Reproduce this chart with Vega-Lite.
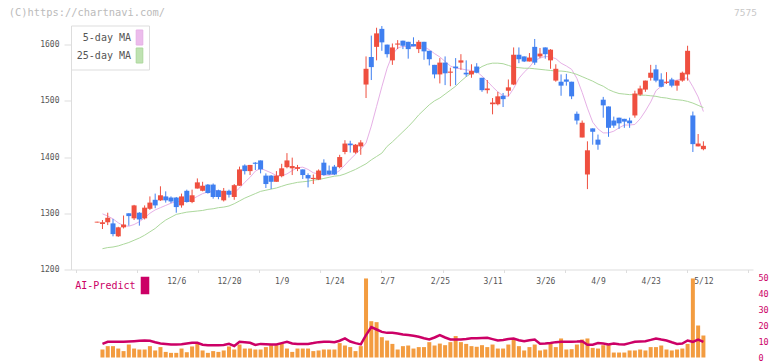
{
  "$schema": "https://vega.github.io/schema/vega-lite/v6.json",
  "background": "white",
  "padding": {"left": 8, "top": 7.5, "right": 2, "bottom": 0},
  "config": {"view": {"stroke": null}, "font": "DejaVu Sans Mono"},
  "title": {"text": "(C)https://chartnavi.com/", "anchor": "start", "frame": "bounds", "dx": -31, "fontSize": 10.4, "font": "DejaVu Sans Mono", "fontWeight": "normal", "color": "#bbbbbb", "offset": -10},
  "spacing": 0,
  "resolve": {"scale": {"x": "independent", "color": "independent"}, "legend": {"color": "independent"}},
  "datasets": {
    "d": [
      {"i":0,"o":1283.5,"h":1285,"l":1283.5,"c":1285},
      {"i":1,"o":1281,"h":1288,"l":1272,"c":1284,"v":5.0,"m5":1299,"m25":1237,"ai":8.5},
      {"i":2,"o":1284,"h":1301,"l":1279,"c":1292,"v":7.1,"m5":1295,"m25":1239,"ai":9.8},
      {"i":3,"o":1282,"h":1290,"l":1259,"c":1263,"v":7.1,"m5":1290,"m25":1240,"ai":9.8},
      {"i":4,"o":1259,"h":1276,"l":1258,"c":1275,"v":5.6,"m5":1283,"m25":1242,"ai":9.8},
      {"i":5,"o":1275,"h":1296,"l":1273,"c":1280,"v":4.0,"m5":1278,"m25":1245,"ai":9.8},
      {"i":6,"o":1300,"h":1300,"l":1278,"c":1295,"v":8.1,"m5":1277,"m25":1248,"ai":10.0},
      {"i":7,"o":1291,"h":1315,"l":1288,"c":1314,"v":5.6,"m5":1280,"m25":1252,"ai":10.2},
      {"i":8,"o":1301,"h":1302,"l":1278,"c":1289,"v":5.0,"m5":1285,"m25":1256,"ai":10.4},
      {"i":9,"o":1291,"h":1314,"l":1289,"c":1310,"v":5.0,"m5":1292,"m25":1261,"ai":10.6},
      {"i":10,"o":1308,"h":1330,"l":1306,"c":1319,"v":7.1,"m5":1300,"m25":1267,"ai":10.4},
      {"i":11,"o":1324,"h":1335,"l":1309,"c":1314,"v":4.4,"m5":1306,"m25":1273,"ai":9.5},
      {"i":12,"o":1323,"h":1348,"l":1322,"c":1332,"v":6.5,"m5":1310,"m25":1281,"ai":8.8},
      {"i":13,"o":1330,"h":1339,"l":1319,"c":1323,"v":3.5,"m5":1314,"m25":1288,"ai":8.5},
      {"i":14,"o":1328,"h":1330,"l":1318,"c":1321,"v":2.9,"m5":1318,"m25":1293,"ai":8.2},
      {"i":15,"o":1328,"h":1329,"l":1301,"c":1311,"v":2.9,"m5":1321,"m25":1298,"ai":8.1},
      {"i":16,"o":1314,"h":1335,"l":1310,"c":1330,"v":5.6,"m5":1321,"m25":1300,"ai":8.3},
      {"i":17,"o":1340,"h":1342,"l":1319,"c":1320,"v":3.3,"m5":1321,"m25":1302,"ai":8.8},
      {"i":18,"o":1320,"h":1342,"l":1318,"c":1332,"v":6.9,"m5":1325,"m25":1303,"ai":9.2},
      {"i":19,"o":1344,"h":1362,"l":1344,"c":1355,"v":8.5,"m5":1330,"m25":1304,"ai":9.2},
      {"i":20,"o":1340,"h":1356,"l":1339,"c":1349,"v":4.4,"m5":1335,"m25":1305,"ai":8.0},
      {"i":21,"o":1351,"h":1352,"l":1335,"c":1336,"v":2.9,"m5":1338,"m25":1307,"ai":7.7},
      {"i":22,"o":1351,"h":1353,"l":1326,"c":1329,"v":4.0,"m5":1340,"m25":1308,"ai":7.7},
      {"i":23,"o":1341,"h":1342,"l":1325,"c":1329,"v":3.5,"m5":1340,"m25":1310,"ai":7.7},
      {"i":24,"o":1323,"h":1345,"l":1321,"c":1340,"v":4.4,"m5":1337,"m25":1311,"ai":7.8},
      {"i":25,"o":1340,"h":1342,"l":1328,"c":1333,"v":6.9,"m5":1334,"m25":1313,"ai":8.5},
      {"i":26,"o":1329,"h":1352,"l":1324,"c":1350,"v":5.0,"m5":1336,"m25":1317,"ai":7.2},
      {"i":27,"o":1349,"h":1383,"l":1349,"c":1378,"v":8.1,"m5":1345,"m25":1322,"ai":9.8},
      {"i":28,"o":1385,"h":1387,"l":1369,"c":1375,"v":5.6,"m5":1355,"m25":1327,"ai":9.6},
      {"i":29,"o":1375,"h":1386,"l":1368,"c":1386,"v":5.6,"m5":1364,"m25":1331,"ai":9.2},
      {"i":30,"o":1390,"h":1391,"l":1377,"c":1388,"v":5.0,"m5":1375,"m25":1335,"ai":7.8},
      {"i":31,"o":1394,"h":1394,"l":1371,"c":1378,"v":5.0,"m5":1380,"m25":1339,"ai":8.5},
      {"i":32,"o":1367,"h":1371,"l":1345,"c":1352,"v":6.5,"m5":1376,"m25":1341,"ai":8.3},
      {"i":33,"o":1367,"h":1368,"l":1343,"c":1356,"v":7.7,"m5":1372,"m25":1343,"ai":8.1},
      {"i":34,"o":1356,"h":1375,"l":1356,"c":1367,"v":7.7,"m5":1367,"m25":1345,"ai":8.1},
      {"i":35,"o":1366,"h":1388,"l":1364,"c":1380,"v":9.0,"m5":1367,"m25":1348,"ai":9.0},
      {"i":36,"o":1382,"h":1407,"l":1380,"c":1394,"v":5.6,"m5":1370,"m25":1351,"ai":9.8},
      {"i":37,"o":1380,"h":1399,"l":1368,"c":1384,"v":3.5,"m5":1376,"m25":1353,"ai":8.8},
      {"i":38,"o":1379,"h":1386,"l":1375,"c":1382,"v":5.6,"m5":1381,"m25":1355,"ai":8.5},
      {"i":39,"o":1378,"h":1378,"l":1361,"c":1368,"v":5.6,"m5":1382,"m25":1356,"ai":8.5},
      {"i":40,"o":1368,"h":1371,"l":1346,"c":1362,"v":5.6,"m5":1378,"m25":1357,"ai":8.5},
      {"i":41,"o":1361,"h":1369,"l":1352,"c":1363,"v":4.0,"m5":1372,"m25":1359,"ai":9.0},
      {"i":42,"o":1360,"h":1378,"l":1359,"c":1376,"v":4.4,"m5":1370,"m25":1360,"ai":9.6},
      {"i":43,"o":1390,"h":1396,"l":1367,"c":1368,"v":5.0,"m5":1368,"m25":1362,"ai":9.8},
      {"i":44,"o":1376,"h":1385,"l":1368,"c":1369,"v":5.0,"m5":1368,"m25":1364,"ai":9.8},
      {"i":45,"o":1383,"h":1386,"l":1368,"c":1369,"v":5.0,"m5":1370,"m25":1366,"ai":9.6},
      {"i":46,"o":1382,"h":1404,"l":1380,"c":1400,"v":9.0,"m5":1376,"m25":1367,"ai":10.5},
      {"i":47,"o":1409,"h":1430,"l":1405,"c":1424,"v":7.5,"m5":1386,"m25":1370,"ai":11.9},
      {"i":48,"o":1424,"h":1429,"l":1408,"c":1421,"v":6.5,"m5":1396,"m25":1374,"ai":10.0},
      {"i":49,"o":1408,"h":1423,"l":1406,"c":1422,"v":4.0,"m5":1405,"m25":1378,"ai":9.0},
      {"i":50,"o":1419,"h":1430,"l":1404,"c":1426,"v":7.1,"m5":1414,"m25":1383,"ai":8.2},
      {"i":51,"o":1529,"h":1579,"l":1505,"c":1557,"v":49.4,"m5":1425,"m25":1388,"ai":14.0},
      {"i":52,"o":1578,"h":1616,"l":1537,"c":1560,"v":22.7,"m5":1455,"m25":1395,"ai":19.0},
      {"i":53,"o":1596,"h":1630,"l":1572,"c":1620,"v":22.1,"m5":1490,"m25":1401,"ai":17.5},
      {"i":54,"o":1628,"h":1633,"l":1589,"c":1604,"v":12.7,"m5":1525,"m25":1407,"ai":16.0},
      {"i":55,"o":1600,"h":1600,"l":1577,"c":1583,"v":10.6,"m5":1558,"m25":1419,"ai":15.4},
      {"i":56,"o":1572,"h":1602,"l":1564,"c":1595,"v":8.5,"m5":1582,"m25":1427,"ai":15.4},
      {"i":57,"o":1600,"h":1608,"l":1592,"c":1602,"v":5.0,"m5":1594,"m25":1436,"ai":15.0},
      {"i":58,"o":1607,"h":1607,"l":1592,"c":1598,"v":7.1,"m5":1597,"m25":1445,"ai":14.4},
      {"i":59,"o":1605,"h":1605,"l":1575,"c":1592,"v":7.5,"m5":1596,"m25":1454,"ai":14.0},
      {"i":60,"o":1601,"h":1613,"l":1597,"c":1597,"v":5.6,"m5":1597,"m25":1464,"ai":13.6},
      {"i":61,"o":1592,"h":1608,"l":1585,"c":1605,"v":6.5,"m5":1599,"m25":1475,"ai":13.0},
      {"i":62,"o":1605,"h":1605,"l":1573,"c":1588,"v":6.5,"m5":1596,"m25":1484,"ai":12.0},
      {"i":63,"o":1589,"h":1589,"l":1563,"c":1574,"v":9.6,"m5":1591,"m25":1493,"ai":11.3},
      {"i":64,"o":1564,"h":1564,"l":1540,"c":1547,"v":7.5,"m5":1584,"m25":1500,"ai":12.5},
      {"i":65,"o":1547,"h":1576,"l":1531,"c":1568,"v":8.7,"m5":1578,"m25":1505,"ai":14.0},
      {"i":66,"o":1568,"h":1579,"l":1528,"c":1549,"v":7.7,"m5":1570,"m25":1512,"ai":12.5},
      {"i":67,"o":1550,"h":1559,"l":1526,"c":1552,"v":9.6,"m5":1562,"m25":1519,"ai":11.3},
      {"i":68,"o":1561,"h":1576,"l":1528,"c":1558,"v":13.4,"m5":1558,"m25":1526,"ai":11.3},
      {"i":69,"o":1568,"h":1583,"l":1555,"c":1572,"v":9.6,"m5":1557,"m25":1535,"ai":11.3},
      {"i":70,"o":1550,"h":1572,"l":1543,"c":1547,"v":8.5,"m5":1555,"m25":1543,"ai":11.6},
      {"i":71,"o":1547,"h":1565,"l":1541,"c":1553,"v":7.1,"m5":1554,"m25":1549,"ai":12.0},
      {"i":72,"o":1561,"h":1567,"l":1549,"c":1550,"v":6.7,"m5":1552,"m25":1555,"ai":12.0},
      {"i":73,"o":1541,"h":1541,"l":1516,"c":1519,"v":7.7,"m5":1544,"m25":1561,"ai":12.2},
      {"i":74,"o":1519,"h":1537,"l":1513,"c":1522,"v":6.5,"m5":1535,"m25":1565,"ai":12.3},
      {"i":75,"o":1494,"h":1505,"l":1476,"c":1497,"v":8.1,"m5":1525,"m25":1567,"ai":11.5},
      {"i":76,"o":1494,"h":1516,"l":1492,"c":1508,"v":5.6,"m5":1516,"m25":1567,"ai":10.6},
      {"i":77,"o":1509,"h":1514,"l":1489,"c":1503,"v":5.6,"m5":1509,"m25":1566,"ai":11.0},
      {"i":78,"o":1518,"h":1538,"l":1508,"c":1524,"v":8.1,"m5":1508,"m25":1563,"ai":11.5},
      {"i":79,"o":1529,"h":1595,"l":1528,"c":1582,"v":11.4,"m5":1522,"m25":1560,"ai":11.9},
      {"i":80,"o":1582,"h":1595,"l":1567,"c":1574,"v":7.1,"m5":1540,"m25":1559,"ai":10.8},
      {"i":81,"o":1579,"h":1579,"l":1569,"c":1570,"v":4.4,"m5":1551,"m25":1558,"ai":10.2},
      {"i":82,"o":1570,"h":1585,"l":1570,"c":1577,"v":6.5,"m5":1560,"m25":1558,"ai":10.8},
      {"i":83,"o":1596,"h":1610,"l":1564,"c":1568,"v":8.1,"m5":1572,"m25":1557,"ai":11.2},
      {"i":84,"o":1579,"h":1594,"l":1576,"c":1584,"v":4.4,"m5":1576,"m25":1556,"ai":8.6},
      {"i":85,"o":1595,"h":1595,"l":1575,"c":1583,"v":5.0,"m5":1579,"m25":1555,"ai":8.7},
      {"i":86,"o":1572,"h":1592,"l":1557,"c":1591,"v":8.5,"m5":1578,"m25":1554,"ai":9.0},
      {"i":87,"o":1536,"h":1565,"l":1534,"c":1557,"v":6.5,"m5":1575,"m25":1553,"ai":9.6},
      {"i":88,"o":1534,"h":1547,"l":1509,"c":1527,"v":11.9,"m5":1567,"m25":1553,"ai":9.8},
      {"i":89,"o":1538,"h":1548,"l":1527,"c":1534,"v":5.0,"m5":1562,"m25":1552,"ai":9.8},
      {"i":90,"o":1534,"h":1534,"l":1503,"c":1508,"v":5.2,"m5":1556,"m25":1550,"ai":9.9},
      {"i":91,"o":1477,"h":1481,"l":1458,"c":1465,"v":8.1,"m5":1540,"m25":1547,"ai":10.0},
      {"i":92,"o":1435,"h":1465,"l":1435,"c":1461,"v":11.25,"m5":1515,"m25":1543,"ai":10.2},
      {"i":93,"o":1369,"h":1428,"l":1343,"c":1412,"v":11.9,"m5":1487,"m25":1539,"ai":8.0},
      {"i":94,"o":1451,"h":1451,"l":1422,"c":1445,"v":6.0,"m5":1462,"m25":1535,"ai":8.0},
      {"i":95,"o":1431,"h":1440,"l":1413,"c":1422,"v":5.6,"m5":1450,"m25":1530,"ai":9.0},
      {"i":96,"o":1502,"h":1507,"l":1470,"c":1492,"v":7.7,"m5":1443,"m25":1526,"ai":8.7},
      {"i":97,"o":1490,"h":1490,"l":1436,"c":1452,"v":8.1,"m5":1443,"m25":1520,"ai":8.1},
      {"i":98,"o":1465,"h":1472,"l":1452,"c":1456,"v":3.1,"m5":1446,"m25":1516,"ai":8.7},
      {"i":99,"o":1470,"h":1470,"l":1450,"c":1460,"v":3.1,"m5":1452,"m25":1513,"ai":8.3},
      {"i":100,"o":1468,"h":1468,"l":1452,"c":1463,"v":3.1,"m5":1457,"m25":1512,"ai":8.1},
      {"i":101,"o":1465,"h":1470,"l":1452,"c":1460,"v":4.4,"m5":1457,"m25":1511,"ai":9.0},
      {"i":102,"o":1474,"h":1518,"l":1470,"c":1513,"v":4.4,"m5":1458,"m25":1511,"ai":9.8},
      {"i":103,"o":1511,"h":1527,"l":1509,"c":1522,"v":5.0,"m5":1468,"m25":1510,"ai":10.0},
      {"i":104,"o":1520,"h":1536,"l":1516,"c":1536,"v":4.4,"m5":1482,"m25":1510,"ai":10.2},
      {"i":105,"o":1541,"h":1564,"l":1536,"c":1550,"v":6.5,"m5":1498,"m25":1509,"ai":11.0},
      {"i":106,"o":1556,"h":1564,"l":1533,"c":1536,"v":6.5,"m5":1518,"m25":1508,"ai":11.9},
      {"i":107,"o":1538,"h":1549,"l":1524,"c":1525,"v":7.5,"m5":1526,"m25":1506,"ai":11.2},
      {"i":108,"o":1532,"h":1551,"l":1530,"c":1534,"v":5.0,"m5":1533,"m25":1505,"ai":10.6},
      {"i":109,"o":1538,"h":1541,"l":1524,"c":1527,"v":4.4,"m5":1535,"m25":1503,"ai":9.5},
      {"i":110,"o":1527,"h":1537,"l":1518,"c":1536,"v":5.0,"m5":1537,"m25":1502,"ai":8.5},
      {"i":111,"o":1536,"h":1552,"l":1534,"c":1550,"v":5.6,"m5":1539,"m25":1501,"ai":8.7},
      {"i":112,"o":1547,"h":1598,"l":1536,"c":1589,"v":8.5,"m5":1541,"m25":1499,"ai":10.6},
      {"i":113,"o":1474,"h":1481,"l":1409,"c":1423,"v":49.4,"m5":1525,"m25":1496,"ai":9.8},
      {"i":114,"o":1419,"h":1441,"l":1419,"c":1424,"v":20.0,"m5":1507,"m25":1492,"ai":11.25},
      {"i":115,"o":1414,"h":1428,"l":1412,"c":1420,"v":13.75,"m5":1481,"m25":1488,"ai":9.8}
    ]
  },
  "vconcat": [
    {
      "width": 682,
      "height": 244,
      "title": {"text": "7575", "anchor": "end", "frame": "group", "dx": 4, "fontSize": 9.5, "font": "DejaVu Sans Mono", "fontWeight": "normal", "color": "#c8c8c8", "offset": 7.5},
      "data": {"name": "d"},
      "layer": [
        {
          "transform": [{"fold": ["m5", "m25"], "as": ["k", "val"]}],
          "mark": {"type": "line", "strokeWidth": 1},
          "encoding": {
            "x": {"field": "i", "type": "quantitative", "title": null,
              "scale": {"domain": [-4.02, 123.46], "nice": false, "zero": false},
              "axis": {"orient": "bottom", "values": [-4.02, 7.57, 19.16, 30.75, 42.34, 53.93, 65.52, 77.11, 88.7, 100.29, 111.88, 123.46], "labels": false, "tickSize": 3, "domainColor": "#dddddd", "tickColor": "#dddddd", "grid": false}},
            "y": {"field": "val", "type": "quantitative", "title": null,
              "scale": {"domain": [1200, 1634], "nice": false, "zero": false},
              "axis": {"values": [1200, 1300, 1400, 1500, 1600], "format": "d", "tickSize": 7, "labelPadding": 5, "domainColor": "#dddddd", "tickColor": "#dddddd", "labelColor": "#555555", "labelFont": "DejaVu Sans Mono", "labelFontSize": 8, "grid": false}},
            "color": {"field": "k", "type": "nominal",
              "scale": {"domain": ["m5", "m25"], "range": ["#e6b0e6", "#acd89c"]},
              "legend": {"orient": "top-left", "offset": 0, "padding": 4, "rowPadding": -3, "title": null,
                "strokeColor": "#dddddd", "fillColor": "white",
                "labelExpr": "datum.value == 'm5' ? '5-day MA' : '25-day MA'",
                "labelAlign": "right", "labelOffset": -16.5, "symbolOffset": 56.5, "labelFont": "DejaVu Sans Mono", "labelFontSize": 10, "labelColor": "#555555",
                "symbolType": "M-0.44,-1L0.44,-1L0.44,1L-0.44,1Z", "symbolSize": 225, "symbolStrokeWidth": 1,
                "encode": {"symbols": {"update": {"fill": {"signal": "datum.value == 'm5' ? '#ecbcec' : '#bfe2b2'"}, "stroke": {"value": "#666666"}, "opacity": {"value": 1}}}}}}
          }
        },
        {
          "mark": {"type": "rule", "strokeWidth": 1},
          "encoding": {
            "x": {"field": "i", "type": "quantitative", "title": null},
            "y": {"field": "l", "type": "quantitative", "title": null},
            "y2": {"field": "h"},
            "color": {"condition": {"test": "datum.c >= datum.o", "value": "#ef4f3f"}, "value": "#3f7ff0"}
          }
        },
        {
          "mark": {"type": "bar", "size": 5},
          "encoding": {
            "x": {"field": "i", "type": "quantitative", "title": null},
            "y": {"field": "o", "type": "quantitative", "title": null},
            "y2": {"field": "c"},
            "color": {"condition": {"test": "datum.c >= datum.o", "value": "#ef4f3f"}, "value": "#3f7ff0"}
          }
        }
      ]
    },
    {
      "width": 682,
      "height": 80,
      "data": {"name": "d"},
      "encoding": {
        "x": {"field": "i", "type": "quantitative", "title": null,
          "scale": {"domain": [-4.02, 123.46], "nice": false, "zero": false},
          "axis": {"orient": "top", "values": [15, 25, 35, 45, 55, 65, 75, 85, 95, 105, 115],
            "labelExpr": "['12/6','12/20','1/9','1/24','2/7','2/25','3/11','3/26','4/9','4/23','5/12'][round((datum.value - 15) / 10)]",
            "domain": false, "ticks": false, "tickSize": 0, "labelPadding": -8, "labelFlush": false, "labelColor": "#555555", "labelFont": "DejaVu Sans Mono", "labelFontSize": 8, "grid": false}}
      },
      "layer": [
        {
          "mark": {"type": "bar", "size": 4, "color": "#f39c40", "orient": "vertical"},
          "encoding": {
            "y": {"field": "v", "type": "quantitative", "title": null,
              "scale": {"domain": [0, 50], "nice": false},
              "axis": {"orient": "right", "values": [0, 10, 20, 30, 40, 50], "domain": false, "ticks": false, "tickSize": 0, "labelPadding": 5, "labelOverlap": false, "labelBound": false, "labelColor": "#cc0066", "labelFont": "DejaVu Sans Mono", "labelFontSize": 8.5, "grid": false}}
          }
        },
        {
          "transform": [{"fold": ["ai"], "as": ["k", "val"]}],
          "mark": {"type": "line", "strokeWidth": 2.5},
          "encoding": {
            "y": {"field": "val", "type": "quantitative", "title": null,
              "axis": {"orient": "right", "values": [0, 10, 20, 30, 40, 50], "domain": false, "ticks": false, "tickSize": 0, "labelPadding": 5, "labelOverlap": false, "labelBound": false, "labelColor": "#cc0066", "labelFont": "DejaVu Sans Mono", "labelFontSize": 8.5, "grid": false}},
            "color": {"field": "k", "type": "nominal",
              "scale": {"domain": ["ai"], "range": ["#cc0066"]},
              "legend": {"orient": "none", "legendX": 2, "legendY": -1, "padding": 0, "title": null,
                "labelExpr": "'AI-Predict'", "labelAlign": "right", "labelOffset": -18.5, "symbolOffset": 63,
                "labelFont": "DejaVu Sans Mono", "labelFontSize": 10, "labelColor": "#cc0066",
                "symbolType": "M-0.44,-1L0.44,-1L0.44,1L-0.44,1Z", "symbolSize": 256,
                "encode": {"symbols": {"update": {"fill": {"value": "#cc0066"}, "stroke": {"value": "#cc0066"}, "opacity": {"value": 1}}}}}}
          }
        }
      ]
    }
  ]
}
